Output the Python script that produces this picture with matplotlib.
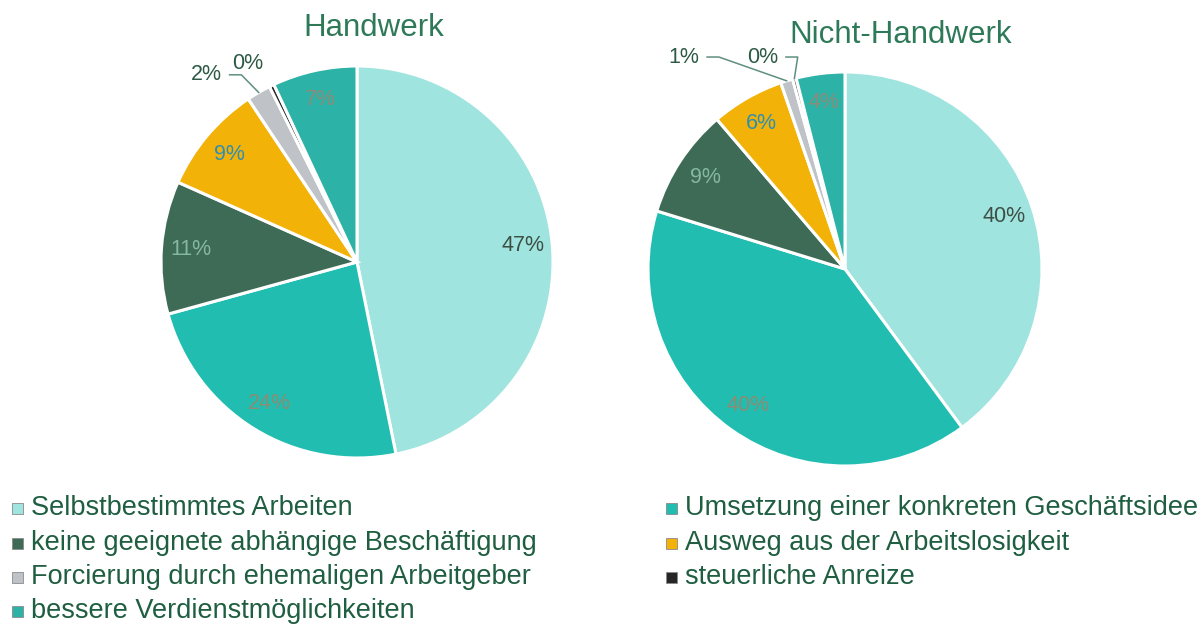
"""Gründungsmotive: Handwerk vs. Nicht-Handwerk als zwei Tortendiagramme."""

import numpy as np
import matplotlib

matplotlib.use("Agg")
import matplotlib.pyplot as plt
from matplotlib.patches import Rectangle

plt.rcParams["font.family"] = ["Liberation Sans", "DejaVu Sans"]

# ---------------------------------------------------------------------------
# Daten
# ---------------------------------------------------------------------------
categories = [
    "Selbstbestimmtes Arbeiten",
    "Umsetzung einer konkreten Geschäftsidee",
    "keine geeignete abhängige Beschäftigung",
    "Ausweg aus der Arbeitslosigkeit",
    "Forcierung durch ehemaligen Arbeitgeber",
    "steuerliche Anreize",
    "bessere Verdienstmöglichkeiten",
]
handwerk = [47, 24, 11, 9, 2, 0.4, 7]
nicht_handwerk = [40, 40, 9, 6, 1, 0.3, 4]
titles = ["Handwerk", "Nicht-Handwerk"]

colors = ["#9fe4de", "#21bdb1", "#3e6b56", "#f2b207", "#bfc3c7", "#262626", "#2cb2a6"]
label_colors = ["#3d4f45", "#8c8c74", "#86b8a0", "#2f8fb0", None, None, "#8c8c7a"]
TITLE_COLOR = "#2e7a58"
TEXT_COLOR = "#1f5e40"
W, H = 1203, 624

# Lage der Torten in Pixeln (Mitte x, Mitte y, Radius)
pies = [(357, 262, 196), (845, 269, 197)]
title_pos = [(374, 28), (901, 35)]
# Außen liegende Beschriftungen kleiner Segmente (in Radius-Einheiten)
outside = [
    {4: (-0.77, 0.955), 5: (-0.56, 1.015)},
    {4: (-0.82, 1.076), 5: (-0.42, 1.076)},
]
leader = [
    {4: True, 5: False},
    {4: True, 5: True},
]


fig = plt.figure(figsize=(W / 100, H / 100), dpi=100)

for i, vals in enumerate([handwerk, nicht_handwerk]):
    cx, cy, r = pies[i]
    ax = fig.add_axes([(cx - r) / W, 1 - (cy + r) / H, 2 * r / W, 2 * r / H])
    total = sum(vals)
    wedges, _ = ax.pie(vals, colors=colors, startangle=90, counterclock=False,
                       radius=1, wedgeprops=dict(edgecolor="white", linewidth=2.2))
    ax.set_xlim(-1, 1)
    ax.set_ylim(-1, 1)
    ax.axis("off")

    for j, (w, v) in enumerate(zip(wedges, vals)):
        pct = f"{round(v / total * 100):.0f}%"
        ang = np.deg2rad((w.theta1 + w.theta2) / 2)
        if j in outside[i]:
            lx, ly = outside[i][j]
            ax.text(lx, ly, pct, ha="center", va="center", fontsize=15.5,
                    color="#2d5a45")
            if leader[i][j]:
                px, py = 1.0 * np.cos(ang), 1.0 * np.sin(ang)
                sx = lx + 0.12
                ax.plot([sx, sx + 0.06, px], [ly, ly, py], color="#5f8f80",
                        linewidth=1.1, clip_on=False)
        else:
            d = 0.85
            ax.text(d * np.cos(ang), d * np.sin(ang), pct, ha="center",
                    va="center", fontsize=15.5, color=label_colors[j])

    tx, ty = title_pos[i]
    fig.text(tx / W, 1 - ty / H, titles[i], ha="center", va="center",
             fontsize=22.5, color=TITLE_COLOR)

# ---------------------------------------------------------------------------
# Legende (zeilenweise, zwei Spalten)
# ---------------------------------------------------------------------------
col_x = [17, 671]
row_y = [508, 543, 577, 611]
for k, (name, c) in enumerate(zip(categories, colors)):
    col, row = k % 2, k // 2
    x, y = col_x[col], row_y[row]
    fig.add_artist(Rectangle(((x - 5.5) / W, 1 - (y + 5.5) / H), 11 / W, 11 / H,
                             transform=fig.transFigure, facecolor=c,
                             edgecolor="#8a8a8a", linewidth=0.6))
    fig.text((x + 14) / W, 1 - y / H, name, ha="left", va="center",
             fontsize=19.5, color=TEXT_COLOR)

fig.savefig("out.png", dpi=100, facecolor="white")
